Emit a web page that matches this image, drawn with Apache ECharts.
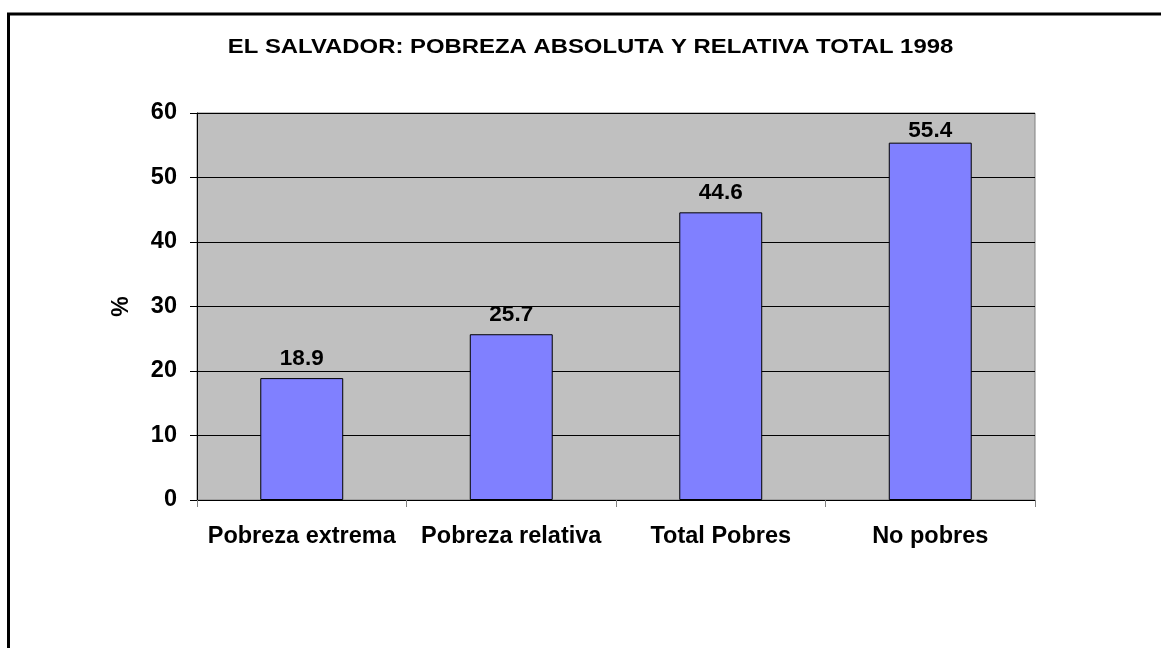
<!DOCTYPE html>
<html>
<head>
<meta charset="utf-8">
<script src="https://cdn.jsdelivr.net/npm/echarts@6/dist/echarts.min.js"></script>
<style>
html,body{margin:0;padding:0;background:#fff;}
#c{width:1161px;height:648px;}
</style>
</head>
<body>
<div id="c"></div>
<script>
var titleText = 'EL SALVADOR: POBREZA ABSOLUTA Y RELATIVA TOTAL 1998';
var categories = ['Pobreza extrema', 'Pobreza relativa', 'Total Pobres', 'No pobres'];
var values = [18.9, 25.7, 44.6, 55.4];
var yAxisName = '%';
var yMin = 0, yMax = 60, yInterval = 10;

var FONT = '"Liberation Sans", Arial, sans-serif';
var GRID_TOP = 113, GRID_BOTTOM = 148, H = 648;
var plotH = H - GRID_TOP - GRID_BOTTOM;

// Excel-style: keep value labels inside the plot area (clamp near top)
var seriesData = values.map(function (v) {
  var barTopPx = plotH * (1 - (v - yMin) / (yMax - yMin));
  if (barTopPx < 41) {
    return {value: v, label: {position: 'insideTop', distance: -2, offset: [0, -barTopPx + 8]}};
  }
  return v;
});

var chart = echarts.init(document.getElementById('c'), null, {renderer: 'canvas'});
chart.setOption({
  backgroundColor: '#ffffff',
  animation: false,
  graphic: [{
    type: 'rect',
    shape: {x: 8.5, y: 14, width: 1300, height: 800},
    style: {fill: 'none', stroke: '#000', lineWidth: 3},
    silent: true
  }, {
    type: 'text',
    x: 590.5, y: 48,
    scaleX: 1.225, scaleY: 1,
    silent: true,
    style: {
      text: titleText,
      textAlign: 'center', textVerticalAlign: 'middle',
      fontFamily: FONT, fontWeight: 'bold', fontSize: 19.5, fill: '#000'
    }
  }],
  grid: {
    left: 197, right: 126, top: GRID_TOP, bottom: GRID_BOTTOM,
    show: true, backgroundColor: '#C0C0C0', borderColor: '#808080', borderWidth: 1
  },
  xAxis: {
    type: 'category',
    data: categories,
    axisLine: {lineStyle: {color: '#000', width: 1}},
    axisTick: {show: true, length: 7, alignWithLabel: false, lineStyle: {color: '#808080'}},
    axisLabel: {margin: 25, fontFamily: FONT, fontWeight: 'bold', fontSize: 23.5, color: '#000', interval: 0}
  },
  yAxis: {
    type: 'value',
    min: yMin, max: yMax, interval: yInterval,
    name: yAxisName,
    nameLocation: 'middle',
    nameGap: 64,
    nameRotate: 90,
    nameTextStyle: {fontFamily: FONT, fontWeight: 'bold', fontSize: 23, color: '#000'},
    axisLine: {show: true, lineStyle: {color: '#000', width: 1}},
    axisTick: {show: true, length: 7, lineStyle: {color: '#000'}},
    axisLabel: {margin: 20, fontFamily: FONT, fontWeight: 'bold', fontSize: 23.5, color: '#000'},
    splitLine: {show: true, lineStyle: {color: '#000', width: 1}}
  },
  series: [{
    type: 'bar',
    data: seriesData,
    barWidth: '39.6%',
    itemStyle: {color: '#8080FF', borderColor: '#000', borderWidth: 1},
    label: {
      show: true, position: 'top', distance: 8,
      fontFamily: FONT, fontWeight: 'bold', fontSize: 22.5, color: '#000',
      formatter: function (p) { return p.value.toFixed(1); }
    }
  }]
});
</script>
</body>
</html>
